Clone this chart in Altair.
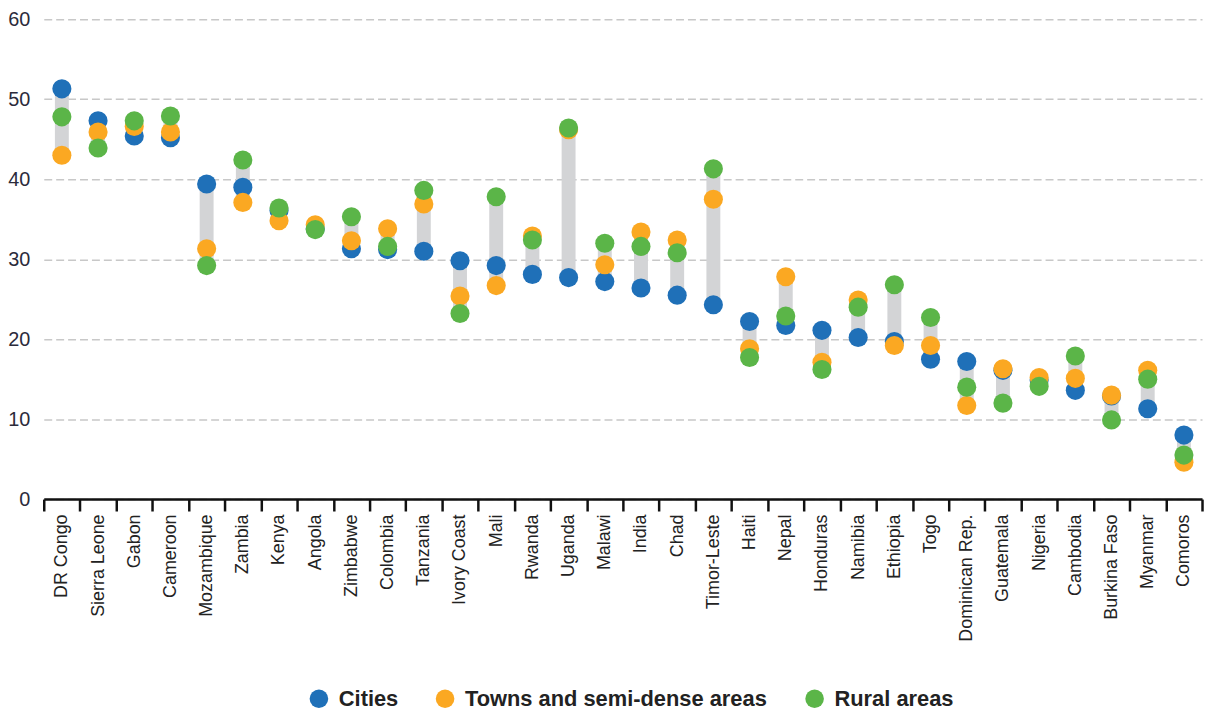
import altair as alt
import pandas as pd

countries = ["DR Congo", "Sierra Leone", "Gabon", "Cameroon", "Mozambique", "Zambia", "Kenya",
             "Angola", "Zimbabwe", "Colombia", "Tanzania", "Ivory Coast", "Mali", "Rwanda",
             "Uganda", "Malawi", "India", "Chad", "Timor-Leste", "Haiti", "Nepal", "Honduras",
             "Namibia", "Ethiopia", "Togo", "Dominican Rep.", "Guatemala", "Nigeria",
             "Cambodia", "Burkina Faso", "Myanmar", "Comoros"]
cities = [51.3, 47.3, 45.4, 45.2, 39.4, 39.0, 36.1, 33.8, 31.3, 31.2, 31.0, 29.8, 29.2, 28.1,
          27.7, 27.2, 26.4, 25.5, 24.3, 22.2, 21.7, 21.1, 20.2, 19.7, 17.5, 17.2, 16.1, 14.9,
          13.6, 12.9, 11.3, 8.0]
towns = [43.0, 45.9, 46.6, 45.9, 31.3, 37.1, 34.8, 34.3, 32.3, 33.8, 36.9, 25.4, 26.7, 32.9,
         46.2, 29.3, 33.4, 32.4, 37.5, 18.8, 27.8, 17.1, 24.9, 19.2, 19.2, 11.7, 16.3, 15.2,
         15.1, 13.0, 16.1, 4.6]
rural = [47.8, 43.9, 47.3, 47.9, 29.2, 42.4, 36.4, 33.7, 35.3, 31.6, 38.6, 23.2, 37.8, 32.4,
         46.4, 32.0, 31.6, 30.8, 41.3, 17.7, 22.9, 16.2, 24.0, 26.8, 22.7, 14.0, 12.0, 14.1,
         17.9, 9.9, 15.0, 5.5]

series = ["Cities", "Towns and semi-dense areas", "Rural areas"]
colors = ["#1f70b8", "#fba822", "#5bb548"]

rows = []
for name, vals in zip(series, [cities, towns, rural]):
    for c, v in zip(countries, vals):
        rows.append({"country": c, "area": name, "value": v})
points_df = pd.DataFrame(rows)

range_df = pd.DataFrame({
    "country": countries,
    "lo": [min(a, b, c) for a, b, c in zip(cities, towns, rural)],
    "hi": [max(a, b, c) for a, b, c in zip(cities, towns, rural)],
})

x_enc = alt.X("country:N", sort=countries, title=None,
              scale=alt.Scale(paddingInner=0, paddingOuter=0),
              axis=alt.Axis(labelAngle=-90, labelFontSize=18, labelFont="Liberation Sans",
                            labelColor="#222222", domainColor="#111111", domainWidth=2.5,
                            tickColor="#111111", tickWidth=2.5, tickSize=12, tickBand="extent",
                            labelPadding=3, grid=False))
y_scale = alt.Scale(domain=[0, 60], nice=False)
y_axis = alt.Axis(values=[0, 10, 20, 30, 40, 50, 60], labelFontSize=20,
                  labelFont="Liberation Sans", labelColor="#2b2b3b", labelPadding=14,
                  ticks=False, tickSize=0, domain=False, grid=True, gridColor="#c8c8c8",
                  gridDash=[8, 4], gridWidth=1.5)

bars = alt.Chart(range_df).mark_rule(strokeWidth=14, color="#d3d4d6").encode(
    x=x_enc,
    y=alt.Y("lo:Q", scale=y_scale, axis=y_axis, title=None),
    y2="hi:Q",
)

dots = alt.Chart(points_df).mark_circle(size=370, opacity=1).encode(
    x=alt.X("country:N", sort=countries),
    y=alt.Y("value:Q", scale=y_scale),
    color=alt.Color("area:N", sort=series,
                    scale=alt.Scale(domain=series, range=colors),
                    legend=alt.Legend(title=None, orient="none", direction="horizontal",
                                      legendX=266, legendY=673,
                                      symbolType="circle", symbolSize=350,
                                      symbolStrokeWidth=0, symbolOpacity=1,
                                      labelFontSize=22, labelFontWeight="bold",
                                      labelFont="Liberation Sans", labelColor="#222222",
                                      labelOffset=9, columnPadding=36, labelLimit=400)),
)

chart = alt.layer(bars, dots).properties(
    width=1166, height=483,
    autosize=alt.AutoSizeParams(type="none"),
    padding={"left": 36, "top": 9, "right": 2, "bottom": 215},
).configure_view(stroke=None)

chart.save("out.html", embed_options={"renderer": "svg", "actions": False})
